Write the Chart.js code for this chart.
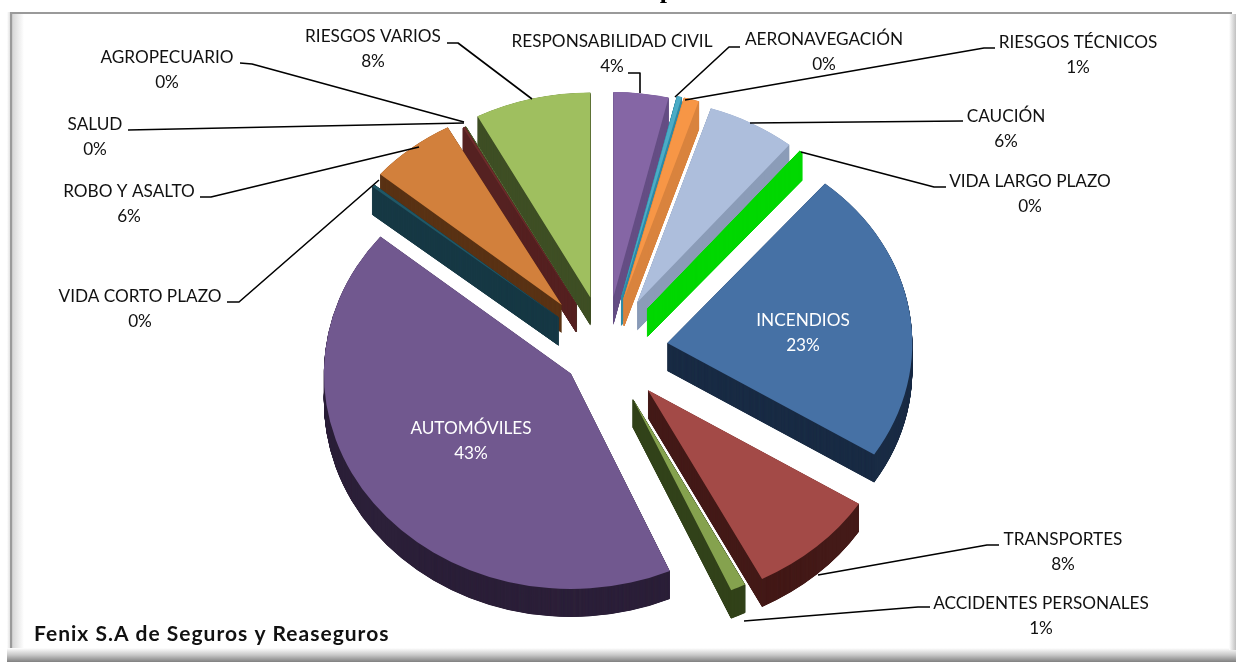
<!DOCTYPE html>
<html><head><meta charset="utf-8">
<style>html,body{margin:0;padding:0;background:#fff;overflow:hidden}#w{position:relative;width:1236px;height:662px}</style>
<script src="https://cdn.jsdelivr.net/npm/chart.js@4"></script>
</head><body><div id="w"><canvas id="c" width="1236" height="662"></canvas></div>
<script>
const categories = ['RESPONSABILIDAD CIVIL','AERONAVEGACIÓN','RIESGOS TÉCNICOS','CAUCIÓN','VIDA LARGO PLAZO','INCENDIOS','TRANSPORTES','ACCIDENTES PERSONALES','AUTOMÓVILES','VIDA CORTO PLAZO','ROBO Y ASALTO','SALUD','AGROPECUARIO','RIESGOS VARIOS'];
const shares = [3.7,0.3,1.0,6.0,0.2,23,8.5,1.0,42.8,0.2,5.9,0.15,0.05,7.8];
const percentLabels = ['4%','0%','1%','6%','0%','23%','8%','1%','43%','0%','6%','0%','0%','8%'];
const topColors = ['#8566a5','#4bacc6','#f79646','#adbedc','#00d800','#4671a5','#a34a47','#85a24e','#71588f','#205867','#d2803c','#6e2c2b','#5a6e2f','#9fbf5f'];
const sideColors = ['#664f85','#2f8aa5','#d9843f','#8b9cb8','#00d800','#1a2c45','#441a18','#32421a','#2c2039','#173945','#5a3315','#562222','#3f4f25','#3f4f25'];
const explodePx = [64,65,65,65,65,62,62,63,44,62,70,63,63,65];
const sliceRadii = [241,243,243,240,240,245,250,245,247,241,238,236,236,241];
const sliceStretch = [1,1,1,1,1,1,1,1,1.026,1,1,1,1,1];
const labelCenters = [[612,41],[824,39],[1078,42],[1006,116],[1030,181],[803,320],[1063,539],[1041,603],[471,428],[140,296],[129,191],[95,124],[167,57],[373,36]];
const leaders = [
 [[628,73],[640,73],[640,93]],
 [[740,47],[729,47],[675,97]],
 [[995,48],[984,48],[685,100]],
 [[963,121],[750,123]],
 [[946,187],[934,187],[801,152]],
 null,
 [[999,545],[987,545],[818,575]],
 [[930,607],[918,607],[744,621]],
 null,
 [[227,302],[239,302],[379,180]],
 [[200,197],[211,197],[419,147]],
 [[128,130],[464,123]],
 [[240,63],[252,64],[464,122]],
 [[447,43],[458,43],[532,99]]
];
const whiteLabels = ['INCENDIOS','AUTOMÓVILES'];
const footer = 'Fenix S.A de Seguros y Reaseguros';
const titleFragment = 'p';

const squash = 0.85, depth = 28;

const frame = {id:'frame', beforeDraw(ch){
  const g = ch.ctx; g.save();
  g.fillStyle='#fff'; g.fillRect(0,0,1236,662);
  let gr=g.createLinearGradient(7,0,13,0); gr.addColorStop(0,'#fff'); gr.addColorStop(1,'#c4c4c4');
  g.fillStyle=gr; g.fillRect(7,12,5,642);
  g.fillStyle='#9a9a9a'; g.fillRect(10,12,2.5,642); g.fillRect(10,12,1222,2);
  gr=g.createLinearGradient(13,0,24,0); gr.addColorStop(0,'#d8d8d8'); gr.addColorStop(1,'#fff');
  g.fillStyle=gr; g.fillRect(13,14,11,636);
  gr=g.createLinearGradient(0,648,0,662); gr.addColorStop(0,'#fff'); gr.addColorStop(.5,'#c8c8c8'); gr.addColorStop(1,'#808080');
  g.fillStyle=gr; g.fillRect(7,648,1229,14);
  gr=g.createLinearGradient(1229,0,1236,0); gr.addColorStop(0,'#fff'); gr.addColorStop(1,'#c0c0c0');
  g.fillStyle=gr; g.fillRect(1229,14,7,636);
  g.restore();
}};
const pie3d = {id:'pie3d',
  beforeDatasetDraw(){ return false; },
  afterDatasetsDraw(ch){
    const meta = ch.getDatasetMeta(0), g = ch.ctx, cy = meta.data[0].y;
    const mid = i=>{const e=meta.data[i];return (e.startAngle+e.endAngle)/2;};
    const order = meta.data.map((a,i)=>i).sort((p,q)=>Math.sin(mid(p))-Math.sin(mid(q)));
    g.save();
    g.translate(0,cy); g.scale(1,squash); g.translate(0,-cy);
    for(const i of order){
      const arc = meta.data[i], base = arc.options, k = sliceStretch[i];
      arc.outerRadius = sliceRadii[i];
      g.save();
      g.translate(Math.cos(mid(i))*explodePx[i], Math.sin(mid(i))*explodePx[i]);
      g.translate(0,cy); g.scale(1,k); g.translate(0,-cy);
      arc.options = {...base, backgroundColor:sideColors[i], borderColor:sideColors[i], borderWidth: shares[i]<1.1 ? 0.8 : 0};
      for(let d=depth;d>0;d-=0.25){ g.save(); g.translate(0,d/(squash*k)); arc.draw(g); g.restore(); }
      arc.options = base;
      arc.draw(g);
      g.restore();
    }
    g.restore();
  },
  afterDraw(ch){
    const g = ch.ctx; g.save();
    g.strokeStyle='#000'; g.lineWidth=1.6; g.lineJoin='round';
    leaders.forEach(l=>{ if(!l)return; g.beginPath(); l.forEach((p,k)=>k?g.lineTo(p[0],p[1]):g.moveTo(p[0],p[1])); g.stroke(); });
    g.textAlign='center'; g.textBaseline='middle'; g.font='17.2px Lato';
    categories.forEach((c,i)=>{
      const [x,y]=labelCenters[i];
      g.fillStyle = whiteLabels.includes(c)?'#fff':'#111';
      g.fillText(c,x,y); g.fillText(percentLabels[i],x,y+25);
    });
    g.textAlign='left'; g.font='bold 21px Lato'; g.letterSpacing='1px'; g.fillStyle='#111'; g.fillText(footer,34,634);
    g.letterSpacing='0px';
    g.textAlign='center'; g.font='bold 26px "Liberation Serif"'; g.textBaseline='alphabetic'; g.fillStyle='#000'; g.fillText(titleFragment,667,-2);
    g.restore();
  }
};
new Chart(document.getElementById('c'),{
  type:'pie',
  data:{labels:categories,datasets:[{data:shares,backgroundColor:topColors,borderWidth:0}]},
  options:{responsive:false,animation:false,radius:246,rotation:0,
    layout:{padding:{left:0,right:24,top:40,bottom:0}},
    plugins:{legend:{display:false},tooltip:{enabled:false}},events:[]},
  plugins:[frame,pie3d]
});
</script></body></html>
